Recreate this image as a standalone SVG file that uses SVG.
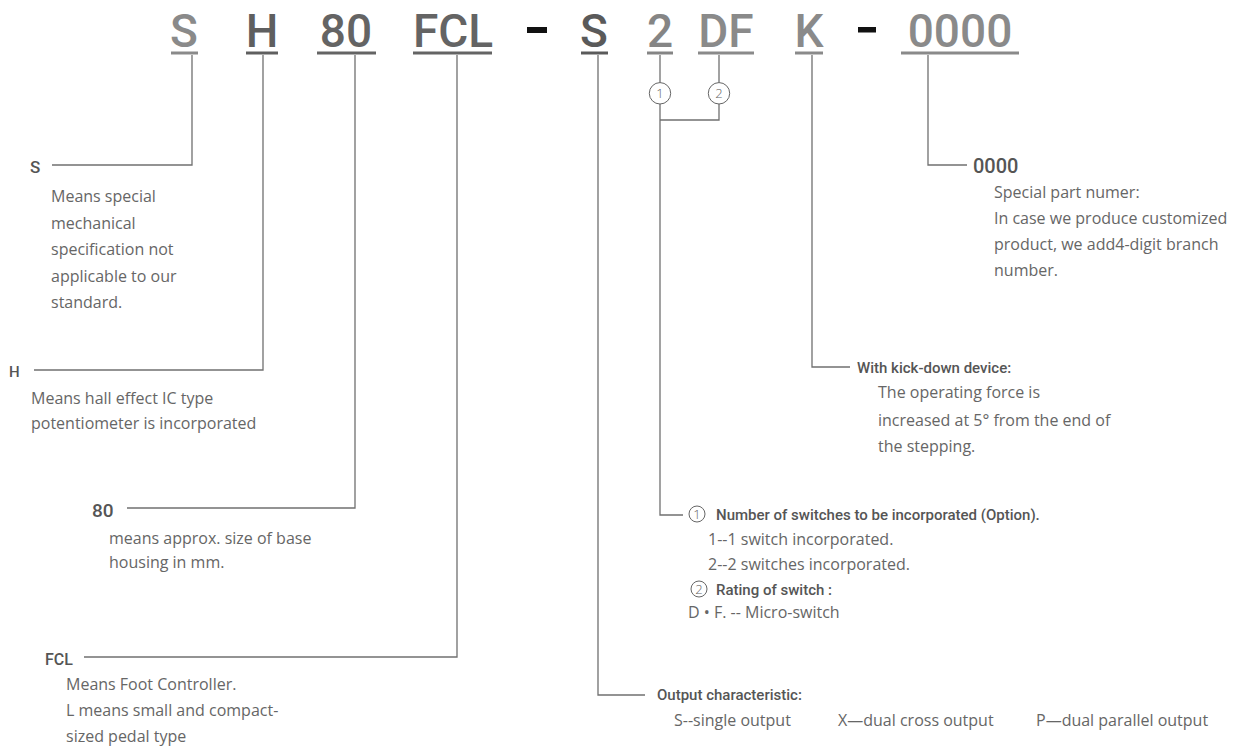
<svg xmlns="http://www.w3.org/2000/svg" width="1236" height="747" viewBox="0 0 1236 747">
<style>
.hd{font-family:Roboto,"Open Sans",sans-serif;font-size:46px;font-weight:500;text-anchor:middle}
.ul{stroke-width:3}
.ln{fill:none;stroke:#707070;stroke-width:1.3}
.lb{font-family:Roboto,"Open Sans",sans-serif;font-size:15px;font-weight:500;fill:#555}
.tx{font-family:"Open Sans","Liberation Sans",sans-serif;font-size:16px;fill:#666}
.ci{fill:none;stroke:#666;stroke-width:1}
.cn{font-family:"Open Sans","Liberation Sans",sans-serif;font-size:13px;font-weight:300;fill:#666;text-anchor:middle}
</style>
<rect width="1236" height="747" fill="#fff"/>
<g id="header">
<text class="hd" x="184" y="47" fill="#8a8a8a">S</text>
<line class="ul" x1="171" y1="53" x2="198" y2="53" stroke="#8a8a8a"/>
<text class="hd" x="262" y="47" fill="#5f5f5f">H</text>
<line class="ul" x1="246" y1="53" x2="278" y2="53" stroke="#5f5f5f"/>
<text class="hd" x="346" y="47" fill="#646464">80</text>
<line class="ul" x1="317" y1="53" x2="376" y2="53" stroke="#646464"/>
<text class="hd" x="453" y="47" fill="#646464">FCL</text>
<line class="ul" x1="413" y1="53" x2="492" y2="53" stroke="#646464"/>
<rect x="527" y="27" width="20" height="6" fill="#111"/>
<text class="hd" x="594" y="47" fill="#5a5a5a">S</text>
<line class="ul" x1="581" y1="53" x2="608" y2="53" stroke="#5a5a5a"/>
<text class="hd" x="660" y="47" fill="#858585">2</text>
<line class="ul" x1="647" y1="53" x2="673" y2="53" stroke="#858585"/>
<text class="hd" x="726" y="47" fill="#8a8a8a">DF</text>
<line class="ul" x1="698" y1="53" x2="754" y2="53" stroke="#8a8a8a"/>
<text class="hd" x="809" y="47" fill="#8a8a8a">K</text>
<line class="ul" x1="795" y1="53" x2="823" y2="53" stroke="#8a8a8a"/>
<rect x="858" y="27" width="18" height="5.5" fill="#111"/>
<text class="hd" x="960" y="47" fill="#8a8a8a">0000</text>
<line class="ul" x1="901" y1="53" x2="1019" y2="53" stroke="#8a8a8a"/>
</g>
<g id="connectors">
<polyline class="ln" points="192,55 192,165 52,165"/>
<polyline class="ln" points="263,55 263,370 34,370"/>
<polyline class="ln" points="355,55 355,508 127,508"/>
<polyline class="ln" points="457,55 457,657 84,657"/>
<polyline class="ln" points="598,55 598,695 645,695"/>
<polyline class="ln" points="660,55 660,82.5"/>
<polyline class="ln" points="660,104 660,515 683,515"/>
<polyline class="ln" points="719,55 719,82.5"/>
<polyline class="ln" points="719,104 719,120 660,120"/>
<polyline class="ln" points="812,55 812,367 850,367"/>
<polyline class="ln" points="928,55 928,165 967,165"/>
<circle class="ci" cx="660" cy="93.3" r="10.7"/>
<text class="cn" x="660" y="98">1</text>
<circle class="ci" cx="719" cy="93.3" r="10.7"/>
<text class="cn" x="719" y="98">2</text>
</g>
<g id="node-s">
<text class="lb" x="30" y="173" style="font-size:17px">S</text>
<text class="tx" x="51" y="202">Means special</text>
<text class="tx" x="51" y="228.5">mechanical</text>
<text class="tx" x="51" y="255">specification not</text>
<text class="tx" x="51" y="282">applicable to our</text>
<text class="tx" x="51" y="308">standard.</text>
</g>
<g id="node-h">
<text class="lb" x="9" y="377" style="font-size:15px">H</text>
<text class="tx" x="31" y="404">Means hall effect IC type</text>
<text class="tx" x="31" y="429">potentiometer is incorporated</text>
</g>
<g id="node-80">
<text class="lb" x="92" y="517" style="font-size:19px">80</text>
<text class="tx" x="109" y="544">means approx. size of base</text>
<text class="tx" x="109" y="568">housing in mm.</text>
</g>
<g id="node-fcl">
<text class="lb" x="45" y="665" style="font-size:16px">FCL</text>
<text class="tx" x="66" y="690">Means Foot Controller.</text>
<text class="tx" x="66" y="716">L means small and compact-</text>
<text class="tx" x="66" y="742">sized pedal type</text>
</g>
<g id="node-output">
<text class="lb" x="657" y="700">Output characteristic:</text>
<text class="tx" y="726"><tspan x="674">S--single output</tspan><tspan x="838">X—dual cross output</tspan><tspan x="1036">P—dual parallel output</tspan></text>
</g>
<g id="node-switch">
<circle class="ci" cx="697" cy="514" r="8"/>
<text class="cn" x="697" y="518.5">1</text>
<text class="lb" x="716" y="519.5">Number of switches to be incorporated (Option).</text>
<text class="tx" x="708" y="545">1--1 switch incorporated.</text>
<text class="tx" x="708" y="570">2--2 switches incorporated.</text>
<circle class="ci" cx="699" cy="589" r="8"/>
<text class="cn" x="699" y="593.5">2</text>
<text class="lb" x="716" y="594.5">Rating of switch :</text>
<text class="tx" x="688" y="618">D • F. -- Micro-switch</text>
</g>
<g id="node-k">
<text class="lb" x="857" y="372.5">With kick-down device:</text>
<text class="tx" x="878" y="398">The operating force is</text>
<text class="tx" x="878" y="426">increased at 5° from the end of</text>
<text class="tx" x="878" y="452">the stepping.</text>
</g>
<g id="node-0000">
<text class="lb" x="973" y="173" style="font-size:20px">0000</text>
<text class="tx" x="994" y="198">Special part numer:</text>
<text class="tx" x="994" y="224">In case we produce customized</text>
<text class="tx" x="994" y="250">product, we add4-digit branch</text>
<text class="tx" x="994" y="276">number.</text>
</g>
</svg>
